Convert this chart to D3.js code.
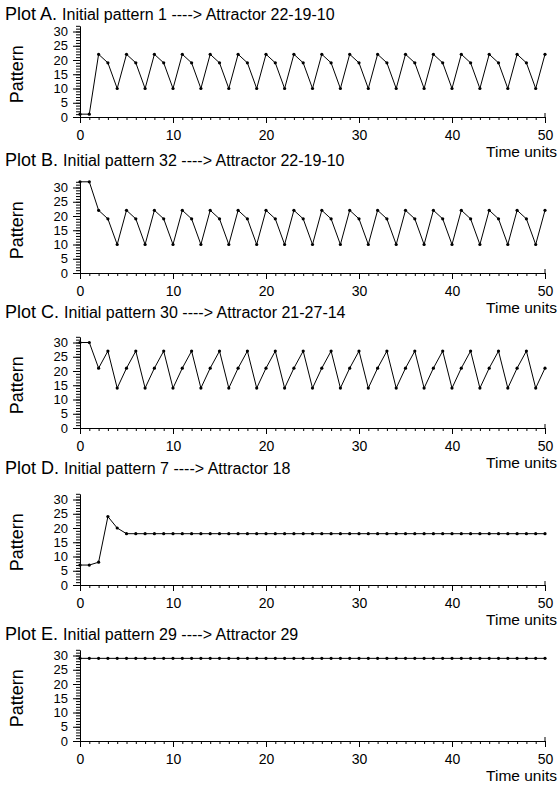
<!DOCTYPE html>
<html>
<head>
<meta charset="utf-8">
<script src="https://cdn.jsdelivr.net/npm/d3@7"></script>
<style>
  body { margin: 0; background: #fff; }
  text { font-family: "Liberation Sans", Arial, sans-serif; fill: #000; }
</style>
</head>
<body>
<svg id="chart" width="558" height="786"></svg>
<script>
// chart values
const plotLetters = ["A", "B", "C", "D", "E"];
const initialPatterns = [1, 32, 30, 7, 29];
const attractors = ["22-19-10", "22-19-10", "21-27-14", "18", "29"];

const seriesA = [1, 1, 22, 19, 10, 22, 19, 10, 22, 19, 10, 22, 19, 10, 22, 19, 10,
  22, 19, 10, 22, 19, 10, 22, 19, 10, 22, 19, 10, 22, 19, 10, 22, 19, 10,
  22, 19, 10, 22, 19, 10, 22, 19, 10, 22, 19, 10, 22, 19, 10, 22];
const seriesB = [32, 32, 22, 19, 10, 22, 19, 10, 22, 19, 10, 22, 19, 10, 22, 19, 10,
  22, 19, 10, 22, 19, 10, 22, 19, 10, 22, 19, 10, 22, 19, 10, 22, 19, 10,
  22, 19, 10, 22, 19, 10, 22, 19, 10, 22, 19, 10, 22, 19, 10, 22];
const seriesC = [30, 30, 21, 27, 14, 21, 27, 14, 21, 27, 14, 21, 27, 14, 21, 27, 14,
  21, 27, 14, 21, 27, 14, 21, 27, 14, 21, 27, 14, 21, 27, 14, 21, 27, 14,
  21, 27, 14, 21, 27, 14, 21, 27, 14, 21, 27, 14, 21, 27, 14, 21];
const seriesD = [7, 7, 8, 24, 20, 18, 18, 18, 18, 18, 18, 18, 18, 18, 18, 18, 18,
  18, 18, 18, 18, 18, 18, 18, 18, 18, 18, 18, 18, 18, 18, 18, 18, 18, 18,
  18, 18, 18, 18, 18, 18, 18, 18, 18, 18, 18, 18, 18, 18, 18, 18];
const seriesE = [29, 29, 29, 29, 29, 29, 29, 29, 29, 29, 29, 29, 29, 29, 29, 29, 29,
  29, 29, 29, 29, 29, 29, 29, 29, 29, 29, 29, 29, 29, 29, 29, 29, 29, 29,
  29, 29, 29, 29, 29, 29, 29, 29, 29, 29, 29, 29, 29, 29, 29, 29];
const allSeries = [seriesA, seriesB, seriesC, seriesD, seriesE];

const xMajorTicks = [0, 10, 20, 30, 40, 50];
const yMajorTicks = [0, 5, 10, 15, 20, 25, 30];

// layout
const panelZero = [117, 273, 428, 585, 741];   // pixel row of pattern 0
const titleRow = [20, 166, 318, 474, 640];
const unitPx = 2.85;
const yMax = 32;

const svg = d3.select("#chart");

const x = d3.scaleLinear().domain([0, 50]).range([80, 545]);

allSeries.forEach((values, i) => {
  const base = panelZero[i];
  const y = d3.scaleLinear().domain([0, yMax]).range([base, base - yMax * unitPx]);
  const g = svg.append("g");

  // title
  const title = g.append("text")
    .attr("x", 5)
    .attr("y", titleRow[i]);
  title.append("tspan").attr("font-size", 18).text(`Plot ${plotLetters[i]}. `);
  title.append("tspan").attr("font-size", 16)
    .text(`Initial pattern ${initialPatterns[i]} ----> Attractor ${attractors[i]}`);

  // y label
  g.append("text")
    .attr("transform", `translate(23,${y(15)}) rotate(-90)`)
    .attr("text-anchor", "middle")
    .attr("font-size", 18)
    .text("Pattern");

  // x axis: minor + major
  g.append("g")
    .attr("transform", `translate(0,${base})`)
    .call(d3.axisBottom(x).tickValues(d3.range(0, 51)).tickSize(3).tickSizeOuter(0).tickFormat(""))
    .call(a => a.selectAll("path, line").attr("stroke", "#000"));
  g.append("g")
    .attr("transform", `translate(0,${base})`)
    .call(d3.axisBottom(x).tickValues(xMajorTicks).tickSize(6).tickSizeOuter(0).tickPadding(7))
    .call(a => a.select(".domain").remove())
    .call(a => a.selectAll("line").attr("stroke", "#000"))
    .call(a => a.selectAll("text").attr("font-size", 14).attr("font-family", "Liberation Sans, Arial, sans-serif"));
  g.append("line")
    .attr("x1", x(50)).attr("x2", x(50))
    .attr("y1", base).attr("y2", base - 4)
    .attr("stroke", "#000");

  // x label
  g.append("text")
    .attr("x", 557)
    .attr("y", base + 40)
    .attr("text-anchor", "end")
    .attr("font-size", 15.5)
    .text("Time units");

  // y axis: minor + major
  g.append("g")
    .attr("transform", `translate(${x(0)},0)`)
    .call(d3.axisLeft(y).tickValues(d3.range(0, yMax + 1)).tickSize(4).tickSizeOuter(0).tickFormat(""))
    .call(a => a.selectAll("path, line").attr("stroke", "#000"));
  g.append("g")
    .attr("transform", `translate(${x(0)},0)`)
    .call(d3.axisLeft(y).tickValues(yMajorTicks).tickSize(7).tickSizeOuter(0).tickPadding(5))
    .call(a => a.select(".domain").remove())
    .call(a => a.selectAll("line").attr("stroke", "#000"))
    .call(a => a.selectAll("text").attr("font-size", 13).attr("font-family", "Liberation Sans, Arial, sans-serif"));

  // series
  const line = d3.line().x((d, t) => x(t)).y(d => y(d));
  g.append("path")
    .datum(values)
    .attr("fill", "none")
    .attr("stroke", "#000")
    .attr("stroke-width", 1)
    .attr("d", line);
  g.selectAll("circle")
    .data(values)
    .join("circle")
    .attr("cx", (d, t) => x(t))
    .attr("cy", d => y(d))
    .attr("r", 1.6)
    .attr("fill", "#000");
});
</script>
</body>
</html>
